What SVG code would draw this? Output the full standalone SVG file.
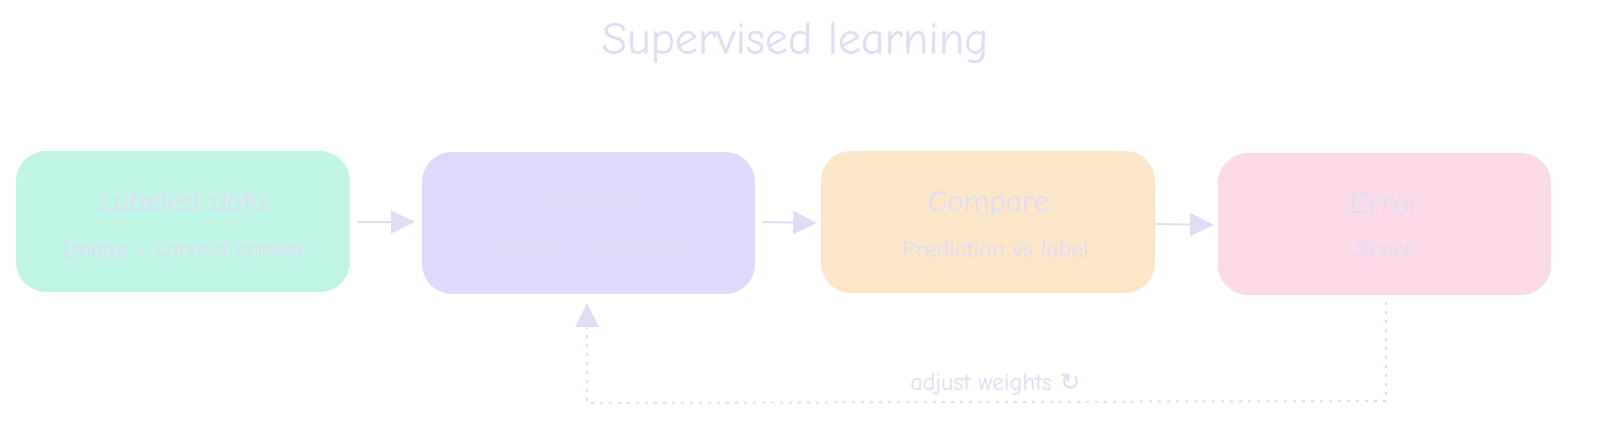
<svg xmlns="http://www.w3.org/2000/svg" width="1600" height="428" viewBox="0 0 1600 428">
<style>
text{font-family:"Comic Neue","Liberation Sans",sans-serif;fill:#dfddf4;text-anchor:middle}
.t{font-size:31px}.s{font-size:24px}
.c{stroke:#dfddf4;stroke-width:2;fill:none}
.d{stroke-dasharray:3 6}
</style>
<defs><marker id="b" markerWidth="24" markerHeight="24" refX="22" refY="12" orient="auto" markerUnits="userSpaceOnUse"><path d="M0,0 L24,12 L0,24 Z" fill="#dfddf4"/></marker></defs>
<rect width="1600" height="428" fill="#fff"/>
<text x="795" y="54" style="font-size:46px">Supervised learning</text>
<g id="n1"><rect x="16" y="151" width="334" height="141" rx="30" fill="#c0f5e6"/><text class="t" x="183" y="211">Labeled data</text><text class="s" x="185" y="257">Image + correct answer</text></g>
<g id="n2"><rect x="422" y="152" width="333" height="142" rx="30" fill="#e0d9fc"/><text class="t" x="590" y="211">Model</text><text class="s" x="594" y="257">Makes a prediction</text></g>
<g id="n3"><rect x="821" y="151" width="334" height="142" rx="30" fill="#fde6c8"/><text class="t" x="988" y="211">Compare</text><text class="s" x="995" y="257">Prediction vs label</text></g>
<g id="n4"><rect x="1218" y="153" width="333" height="142" rx="30" fill="#fbd9e6"/><text class="t" x="1385" y="213">Error</text><text class="s" x="1385" y="257">Score</text></g>
<g id="edges">
<path class="c" d="M358,222 L413,222" marker-end="url(#b)"/>
<path class="c" d="M762,222 L815,223" marker-end="url(#b)"/>
<path class="c" d="M1156,224 L1212,225" marker-end="url(#b)"/>
<path class="c d" d="M1386,302 L1386,401 L587,403 L587,305" marker-end="url(#b)"/>
<text x="995" y="390" style="font-size:24px">adjust weights ↻</text>
</g>
</svg>
